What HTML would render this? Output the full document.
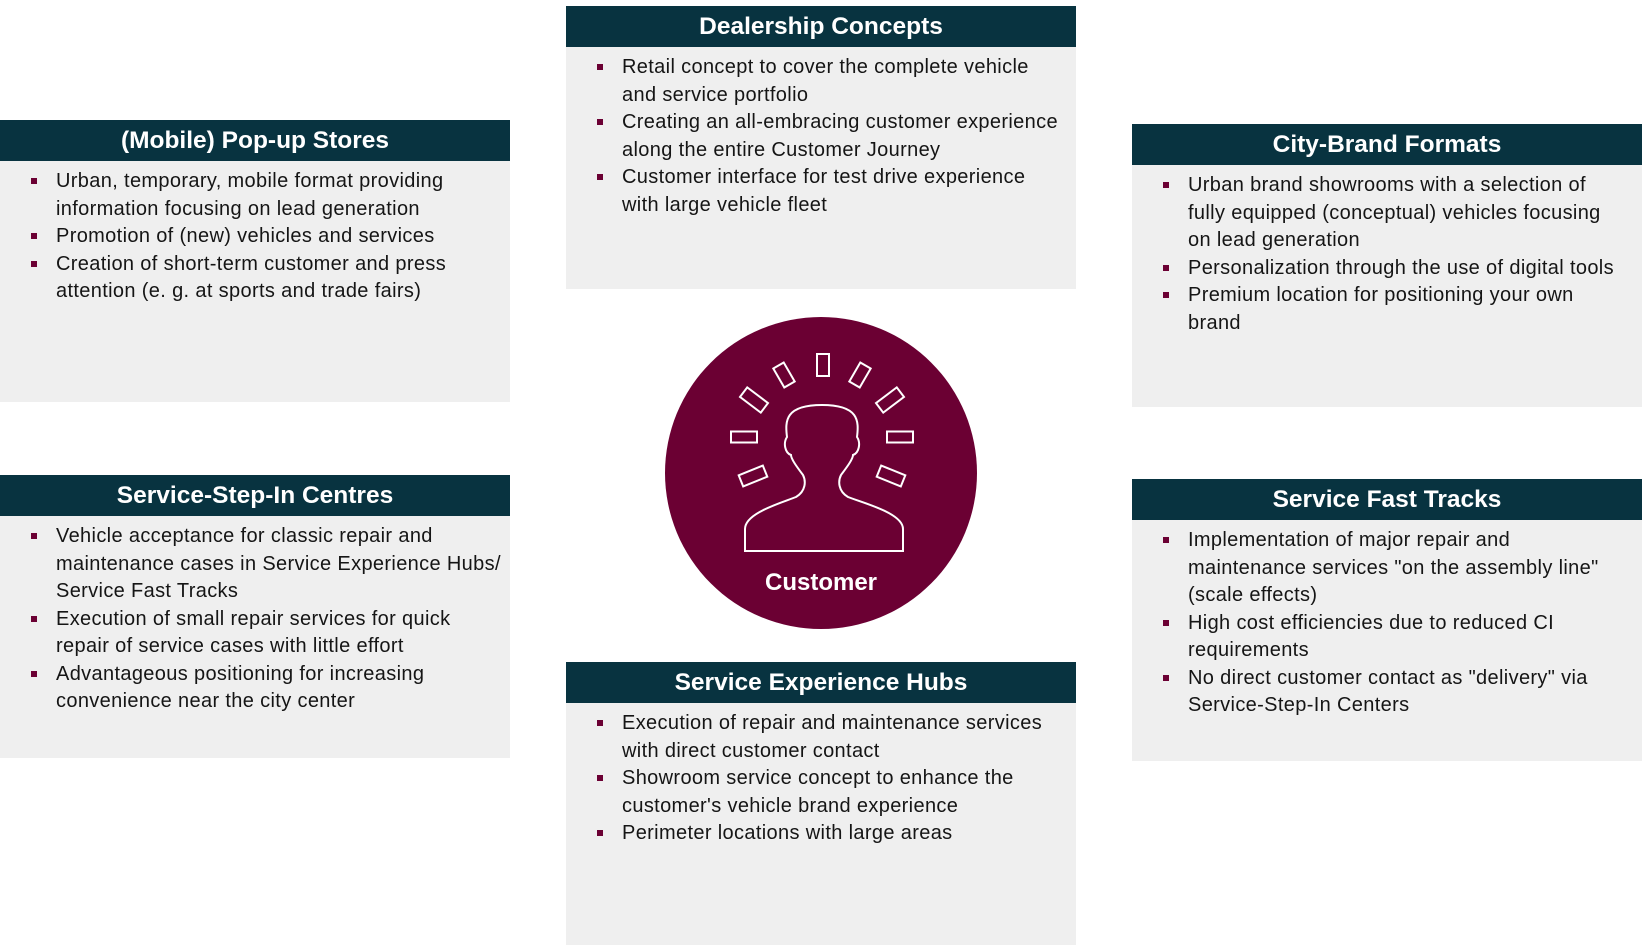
<!DOCTYPE html>
<html><head><meta charset="utf-8"><style>
*{margin:0;padding:0;box-sizing:border-box}
body{width:1642px;height:945px;background:#fff;position:relative;overflow:hidden;font-family:"Liberation Sans",sans-serif}
.box{position:absolute;background:#efefef;width:510px}
.hd{height:41px;background:#083340;color:#fff;font-weight:bold;font-size:24.5px;text-align:center;line-height:41px}
ul{list-style:none;padding:7px 0 0 56px}
li{position:relative;font-size:20px;letter-spacing:0.35px;line-height:27.5px;color:#151515;white-space:nowrap}
li:before{content:"";position:absolute;left:-25px;top:10px;width:6px;height:6px;background:#6b0033}
</style></head><body>

<div class="box" style="left:566px;top:6px;height:283px">
<div class="hd">Dealership Concepts</div>
<ul><li>Retail concept to cover the complete vehicle<br>and service portfolio</li>
<li>Creating an all-embracing customer experience<br>along the entire Customer Journey</li>
<li>Customer interface for test drive experience<br>with large vehicle fleet</li></ul></div>

<div class="box" style="left:0;top:120px;height:282px">
<div class="hd">(Mobile) Pop-up Stores</div>
<ul><li>Urban, temporary, mobile format providing<br>information focusing on lead generation</li>
<li>Promotion of (new) vehicles and services</li>
<li>Creation of short-term customer and press<br>attention (e. g. at sports and trade fairs)</li></ul></div>

<div class="box" style="left:1132px;top:124px;height:283px">
<div class="hd">City-Brand Formats</div>
<ul><li>Urban brand showrooms with a selection of<br>fully equipped (conceptual) vehicles focusing<br>on lead generation</li>
<li>Personalization through the use of digital tools</li>
<li>Premium location for positioning your own<br>brand</li></ul></div>

<div class="box" style="left:0;top:475px;height:283px">
<div class="hd">Service-Step-In Centres</div>
<ul><li>Vehicle acceptance for classic repair and<br>maintenance cases in Service Experience Hubs/<br>Service Fast Tracks</li>
<li>Execution of small repair services for quick<br>repair of service cases with little effort</li>
<li>Advantageous positioning for increasing<br>convenience near the city center</li></ul></div>

<div class="box" style="left:1132px;top:479px;height:282px">
<div class="hd">Service Fast Tracks</div>
<ul><li>Implementation of major repair and<br>maintenance services "on the assembly line"<br>(scale effects)</li>
<li>High cost efficiencies due to reduced CI<br>requirements</li>
<li>No direct customer contact as "delivery" via<br>Service-Step-In Centers</li></ul></div>

<div class="box" style="left:566px;top:662px;height:283px">
<div class="hd">Service Experience Hubs</div>
<ul><li>Execution of repair and maintenance services<br>with direct customer contact</li>
<li>Showroom service concept to enhance the<br>customer's vehicle brand experience</li>
<li>Perimeter locations with large areas</li></ul></div>

<svg style="position:absolute;left:0;top:0" width="1642" height="945">
<circle cx="821" cy="473" r="156" fill="#6b0033"/>
<g fill="none" stroke="#fff" stroke-width="2">
<g transform="translate(821,473)">
<rect x="-4" y="-119" width="12" height="22"/>
<rect x="-6" y="-11" width="12" height="22" transform="translate(-37,-98) rotate(-30)"/>
<rect x="-6" y="-11" width="12" height="22" transform="translate(39,-98) rotate(30)"/>
<rect x="-13" y="-6" width="26" height="12" transform="translate(-67,-73) rotate(37)"/>
<rect x="-13" y="-6" width="26" height="12" transform="translate(69,-73) rotate(-37)"/>
<rect x="-13" y="-5.5" width="26" height="11" transform="translate(-77,-36)"/>
<rect x="-13" y="-5.5" width="26" height="11" transform="translate(79,-36)"/>
<rect x="-13" y="-6" width="26" height="12" transform="translate(-68,3) rotate(-22)"/>
<rect x="-13" y="-6" width="26" height="12" transform="translate(70,3) rotate(22)"/>
<path d="M-76,78 L-76,56 C-76,40 -40,30 -25,24 C-15,18 -15,8 -18,2 C-24,-6 -30,-14 -30,-18 C-36,-20 -38,-30 -34,-36 C-36,-52 -36,-68 1,-68 C38,-68 38,-52 36,-36 C40,-30 38,-20 32,-18 C32,-14 26,-6 20,2 C17,8 17,18 27,24 C42,30 82,40 82,56 L82,78 Z"/>
</g></g>
<text x="821" y="590" fill="#fff" font-family="Liberation Sans,sans-serif" font-weight="bold" font-size="24" text-anchor="middle">Customer</text>
</svg>
</body></html>
